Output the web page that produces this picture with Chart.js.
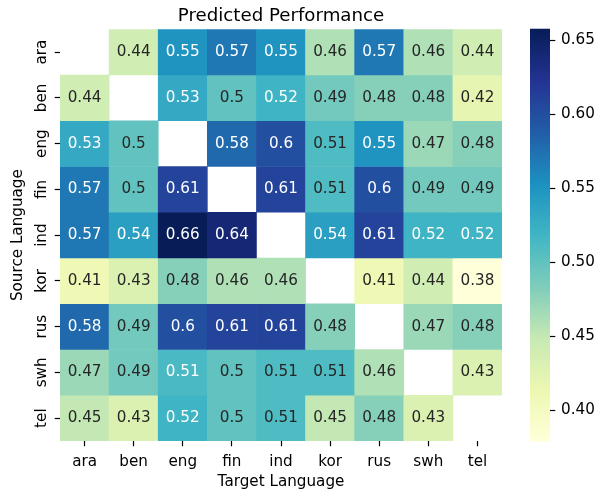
<!DOCTYPE html>
<html>
<head>
<meta charset="utf-8">
<script src="https://cdn.jsdelivr.net/npm/chart.js@4/dist/chart.umd.min.js"></script>
<style>
  html, body { margin: 0; padding: 0; background: #fff; }
  #wrap { width: 608px; height: 492px; }
</style>
</head>
<body>
<div id="wrap"><canvas id="heatmap"></canvas></div>
<script>
// languages, used for both source (rows) and target (columns)
const languages = ['ara', 'ben', 'eng', 'fin', 'ind', 'kor', 'rus', 'swh', 'tel'];

// predicted performance, one row per source language (null = same language)
const fromAra = [null, 0.44, 0.55, 0.57, 0.55, 0.46, 0.57, 0.46, 0.44];
const fromBen = [0.44, null, 0.53, 0.50, 0.52, 0.49, 0.48, 0.48, 0.42];
const fromEng = [0.53, 0.50, null, 0.58, 0.60, 0.51, 0.55, 0.47, 0.48];
const fromFin = [0.57, 0.50, 0.61, null, 0.61, 0.51, 0.60, 0.49, 0.49];
const fromInd = [0.57, 0.54, 0.657, 0.64, null, 0.54, 0.61, 0.52, 0.52];
const fromKor = [0.41, 0.43, 0.48, 0.46, 0.46, null, 0.41, 0.44, 0.379];
const fromRus = [0.58, 0.49, 0.60, 0.61, 0.61, 0.48, null, 0.47, 0.48];
const fromSwh = [0.47, 0.49, 0.513, 0.50, 0.51, 0.51, 0.46, null, 0.43];
const fromTel = [0.45, 0.43, 0.52, 0.50, 0.51, 0.45, 0.48, 0.43, null];
const rows = [fromAra, fromBen, fromEng, fromFin, fromInd, fromKor, fromRus, fromSwh, fromTel];

const colorbarTicks = [0.40, 0.45, 0.50, 0.55, 0.60, 0.65];

const allValues = rows.flat().filter(v => v != null);
const vmin = Math.min(...allValues);
const vmax = Math.max(...allValues);

// YlGnBu stops
const ylgnbu = [
  [255, 255, 217], [237, 248, 177], [199, 233, 180], [127, 205, 187], [65, 182, 196],
  [29, 145, 192], [34, 94, 168], [37, 52, 148], [8, 29, 88]
];

function rgbFor(v) {
  let t = (v - vmin) / (vmax - vmin);
  t = Math.min(1, Math.max(0, t));
  const pos = t * (ylgnbu.length - 1);
  const i = Math.min(ylgnbu.length - 2, Math.floor(pos));
  const f = pos - i;
  return ylgnbu[i].map((c, k) => Math.round(c + (ylgnbu[i + 1][k] - c) * f));
}

function colorFor(v) {
  const c = rgbFor(v);
  return `rgb(${c[0]},${c[1]},${c[2]})`;
}

// same rule seaborn uses to pick the annotation colour
function luminance(v) {
  const lin = rgbFor(v).map(c => {
    c = c / 255;
    return c <= 0.03928 ? c / 12.92 : Math.pow((c + 0.055) / 1.055, 2.4);
  });
  return 0.2126 * lin[0] + 0.7152 * lin[1] + 0.0722 * lin[2];
}

function fmt(v) {
  return String(Number(v.toPrecision(2)));
}

const font = 'DejaVu Sans';
const textSize = 15.2;
Chart.defaults.font.family = font;
Chart.defaults.font.size = textSize;
Chart.defaults.color = '#000';

// one dataset per source row, each cell a floating bar spanning [row, row + 1]
const datasets = rows.map((row, r) => ({
  label: languages[r],
  data: row.map(v => (v == null ? null : [r, r + 1])),
  backgroundColor: row.map(v => (v == null ? 'rgba(0,0,0,0)' : colorFor(v))),
  borderWidth: 0,
  barPercentage: 1,
  categoryPercentage: 1,
  grouped: false
}));

const cellLabels = {
  id: 'cellLabels',
  afterDatasetsDraw(chart) {
    const ctx = chart.ctx;
    ctx.save();
    ctx.font = `${textSize}px "${font}"`;
    ctx.textAlign = 'center';
    ctx.textBaseline = 'middle';
    rows.forEach((row, r) => {
      const meta = chart.getDatasetMeta(r);
      row.forEach((v, c) => {
        if (v == null) return;
        const p = meta.data[c].getCenterPoint();
        ctx.fillStyle = luminance(v) > 0.408 ? '#262626' : '#ffffff';
        ctx.fillText(fmt(v), p.x, p.y);
      });
    });
    ctx.restore();
  }
};

const colorbar = {
  id: 'colorbar',
  afterDraw(chart) {
    const s = chart.scales.cbar;
    const ctx = chart.ctx;
    const x0 = s.left + 28;
    const w = 20;
    ctx.save();
    const steps = 256;
    for (let i = 0; i < steps; i++) {
      const a = vmin + (vmax - vmin) * i / steps;
      const b = vmin + (vmax - vmin) * (i + 1) / steps;
      const y1 = s.getPixelForValue(a);
      const y2 = s.getPixelForValue(b);
      ctx.fillStyle = colorFor((a + b) / 2);
      ctx.fillRect(x0, y2 - 0.5, w, y1 - y2 + 1);
    }
    ctx.strokeStyle = '#000';
    ctx.lineWidth = 1.2;
    s.ticks.forEach(t => {
      const y = Math.round(s.getPixelForValue(t.value)) + 0.5;
      ctx.beginPath();
      ctx.moveTo(x0 + w, y);
      ctx.lineTo(x0 + w + 5.3, y);
      ctx.stroke();
    });
    ctx.restore();
  }
};

const tickGrid = {
  display: true,
  drawOnChartArea: false,
  offset: false,
  tickLength: 5.3,
  tickWidth: 1.2,
  tickColor: '#000'
};

// fixed axis sizes, and no extra padding for overhanging labels
function fixBox(size) {
  return s => {
    if (s.isHorizontal()) s.height = size; else s.width = size;
    s.paddingTop = 0;
    s.paddingBottom = 0;
    s.paddingLeft = 0;
    s.paddingRight = 0;
  };
}

new Chart(document.getElementById('heatmap'), {
  type: 'bar',
  data: { labels: languages, datasets: datasets },
  plugins: [cellLabels, colorbar],
  options: {
    responsive: true,
    maintainAspectRatio: false,
    animation: false,
    layout: { padding: 0 },
    plugins: {
      legend: { display: false },
      tooltip: { enabled: false },
      title: {
        display: true,
        text: 'Predicted Performance',
        fullSize: false,
        color: '#000',
        font: { size: 18.2, weight: 'normal' },
        padding: { top: 5, bottom: 2.4 }
      }
    },
    scales: {
      x: {
        type: 'category',
        offset: true,
        grid: tickGrid,
        border: { display: false },
        ticks: { padding: 6.5, maxRotation: 0, autoSkip: false },
        title: { display: true, text: 'Target Language', padding: { top: 0, bottom: 0.5 } },
        afterFit: fixBox(51)
      },
      y: {
        type: 'linear',
        min: 0,
        max: 9,
        reverse: true,
        afterBuildTicks(s) { s.ticks = languages.map((l, i) => ({ value: i + 0.5 })); },
        grid: tickGrid,
        border: { display: false },
        ticks: {
          callback: v => languages[Math.floor(v)],
          minRotation: 90,
          maxRotation: 90,
          crossAlign: 'center',
          padding: -2,
          autoSkip: false
        },
        title: { display: true, text: 'Source Language', padding: { top: 9.4, bottom: 0 } },
        afterFit: fixBox(60)
      },
      cbar: {
        type: 'linear',
        position: 'right',
        min: vmin,
        max: vmax,
        afterBuildTicks(s) { s.ticks = colorbarTicks.map(v => ({ value: v })); },
        grid: { display: false, drawTicks: false },
        border: { display: false },
        ticks: { callback: v => v.toFixed(2), padding: 59, autoSkip: false },
        afterFit: fixBox(106)
      }
    }
  }
});
</script>
</body>
</html>
